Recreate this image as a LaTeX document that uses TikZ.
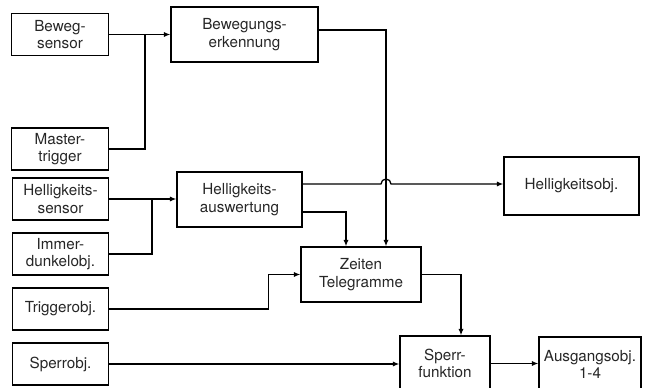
\documentclass[tikz,border=0pt]{standalone}
\usepackage{fontspec}
\setmainfont{TeX Gyre Heros}
\usetikzlibrary{arrows.meta}
\tikzset{
  block/.style={draw, line width=1.1pt, rectangle, align=center,
    font=\fontsize{13}{14.8}\selectfont, text=black!85, inner sep=1pt,
    minimum width=2.9cm, minimum height=1.26cm},
  wide/.style={block, minimum height=1.65cm},
  link/.style={-{Latex[length=5.5pt,width=4.5pt]}}
}
\begin{document}
\begin{tikzpicture}[x=0.03cm, y=0.03cm, line width=1.1pt]
      \path[use as bounding box, clip] (0,0) rectangle (647,387);
      \node[block] (bsensor) at (60,352.5) {Beweg-\\sensor};
      \node[block] (master) at (60,238) {Master-\\trigger};
      \node[block] (hsensor) at (60.5,188) {Helligkeits-\\sensor};
      \node[block] (immer) at (60.5,133) {Immer-\\dunkelobj.};
      \node[block] (trigger) at (60.5,78) {Triggerobj.};
      \node[block] (sperr) at (60.5,23) {Sperrobj.};
      \node[wide, minimum width=4.41cm] (erkennung) at (244.5,352.5) {Bewegungs-\\erkennung};
      \node[wide, minimum width=3.75cm] (auswertung) at (239.5,187.5) {Helligkeits-\\auswertung};
      \node[wide, minimum width=3.6cm] (zeiten) at (361,112.5) {Zeiten\\Telegramme};
      \node[wide, minimum width=4.05cm, minimum height=1.74cm] (hobj) at (571.5,201) {Helligkeitsobj.};
      \node[wide, minimum width=2.7cm] (sperrfkt) at (445,23.5) {Sperr-\\funktion};
      \node[wide, minimum width=3.06cm] (ausgang) at (590,22.5) {Ausgangsobj.\\1-4};
      \coordinate (j1) at (145,352.5);
      \coordinate (j2) at (152,188);
      \coordinate (jmp) at (386,203);
      \draw (master.east) -| (j1);
      \draw (immer.east) -| (j2);
      \begin{scope}[link]
        \draw (bsensor.east) -- (erkennung.west);
        \draw (hsensor.east) -- (auswertung.west |- hsensor.east);
        \draw ([yshift=0.135cm]erkennung.east) -| ([xshift=0.75cm]zeiten.north);
        \draw ([yshift=0.465cm]auswertung.east) -- (381,203)
          arc[start angle=180, end angle=0, radius=0.15cm] -- (hobj.west |- jmp);
        \draw ([yshift=-0.375cm]auswertung.east) -| ([xshift=-0.45cm]zeiten.north);
        \draw (trigger.east) -- ++(4.77cm,0) |- (zeiten.west);
        \draw (zeiten.east) -| ([xshift=0.48cm]sperrfkt.north);
        \draw (sperr.east) -- (sperrfkt.west |- sperr.east);
        \draw (sperrfkt.east) -- (ausgang.west |- sperrfkt.east);
      \end{scope}
    \end{tikzpicture}
\end{document}
